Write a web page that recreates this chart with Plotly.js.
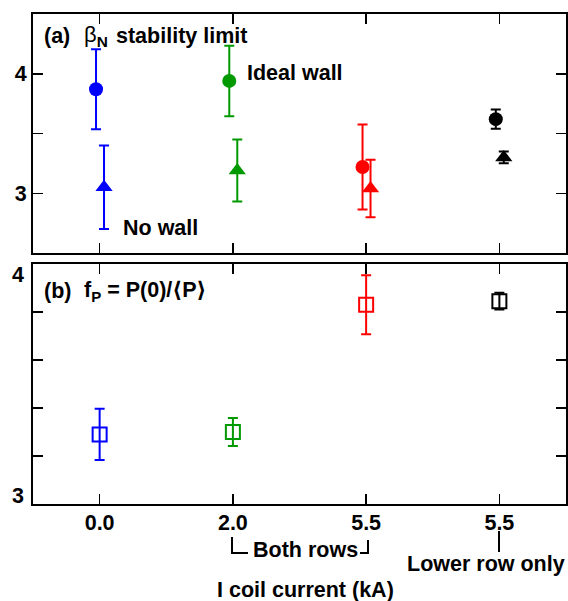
<!DOCTYPE html>
<html>
<head>
<meta charset="utf-8">
<script src="https://cdn.plot.ly/plotly-3.0.1.min.js"></script>
<style>
  html, body { margin: 0; padding: 0; background: #fff; }
  #chart { width: 568px; height: 601px; }
</style>
</head>
<body>
<div id="chart"></div>
<script>
// Coil-current cases along the x axis
const caseIndex = [0, 1, 2, 3];
const caseTickText = ['0.0', '2.0', '5.5', '5.5'];
const caseColors = ['#0000ff', '#009a00', '#ff0000', '#000000'];

// (a) beta_N stability limit
const idealWallBeta = [3.87, 3.94, 3.22, 3.62];
const idealWallErr  = [0.335, 0.295, 0.355, 0.08];
const noWallBeta    = [3.05, 3.19, 3.04, 3.30];
const noWallErr     = [0.35, 0.26, 0.24, 0.05];

// (b) pressure peaking factor f_P = P(0)/<P>
const peakingFactor = [3.29, 3.30, 3.83, 3.845];
const peakingErr    = [0.107, 0.058, 0.123, 0.035];

// axis ticks
const topTickVals = [3, 3.5, 4];
const topTickText = ['3', '', '4'];
const botTickVals = [3, 3.2, 3.4, 3.6, 3.8, 4];
const botTickText = ['3', '', '', '', '', '4'];

const FONT = 'Liberation Sans, Arial, Helvetica, sans-serif';
const W = 568, H = 601;
const M = {l: 33, r: 2, t: 14, b: 97};
const plotW = W - M.l - M.r, plotH = H - M.t - M.b;
const px = x => (x - M.l) / plotW;          // pixel -> paper x
const py = y => (H - M.b - y) / plotH;       // pixel -> paper y

const traces = [];
caseIndex.forEach((xi, i) => {
  const c = caseColors[i];
  const eb = (arr) => ({type: 'data', array: [arr[i]], visible: true,
                        color: c, thickness: 2, width: 5});
  traces.push({
    x: [xi - 0.027], y: [idealWallBeta[i]], xaxis: 'x2', yaxis: 'y2',
    mode: 'markers', type: 'scatter', error_y: eb(idealWallErr),
    marker: {symbol: 'circle', size: 14, color: c}, showlegend: false
  });
  traces.push({
    x: [xi + 0.033], y: [noWallBeta[i]], xaxis: 'x2', yaxis: 'y2',
    mode: 'markers', type: 'scatter', error_y: eb(noWallErr),
    marker: {symbol: 'triangle-up', size: 15, color: c}, showlegend: false
  });
  traces.push({
    x: [xi], y: [peakingFactor[i]], xaxis: 'x', yaxis: 'y',
    mode: 'markers', type: 'scatter', error_y: eb(peakingErr),
    marker: {symbol: 'square-open', size: 14, color: c, line: {width: 2, color: c}},
    showlegend: false
  });
});

const tickFont = {family: FONT, size: 21.5, color: '#000', weight: 'bold'};
const axisStyle = {
  showline: true, linecolor: '#000', linewidth: 2, mirror: 'ticks',
  ticks: 'inside', ticklen: 10, tickwidth: 1.5, tickcolor: '#000',
  showgrid: false, zeroline: false, tickfont: tickFont
};

const label = (text, x, y, extra) => Object.assign({
  text: text, xref: 'paper', yref: 'paper', x: px(x), y: py(y),
  xanchor: 'left', yanchor: 'middle', showarrow: false,
  font: {family: FONT, size: 21.5, color: '#000', weight: 'bold'}
}, extra || {});

// panel (b) end labels sit just inside the frame
const botEndLabels = [
  label(botTickText[botTickText.length - 1], 26, 275, {xanchor: 'right'}),
  label(botTickText[0], 26, 496, {xanchor: 'right'})
];

const angle = ch => `<span style="font-family:'DejaVu Sans'">${ch}</span>`;

const layout = {
  width: W, height: H, margin: M,
  paper_bgcolor: '#fff', plot_bgcolor: '#fff',
  font: {family: FONT, color: '#000'},
  xaxis: Object.assign({}, axisStyle, {
    domain: [0, 1], anchor: 'y', range: [-0.5, 3.5],
    tickvals: caseIndex, ticktext: caseTickText, ticklabelstandoff: -2
  }),
  xaxis2: Object.assign({}, axisStyle, {
    domain: [0, 1], anchor: 'y2', range: [-0.5, 3.5], matches: 'x',
    tickvals: caseIndex, showticklabels: false
  }),
  yaxis: Object.assign({}, axisStyle, {
    domain: [0, py(264)], anchor: 'x', range: [3, 4],
    tickvals: botTickVals, showticklabels: false
  }),
  yaxis2: Object.assign({}, axisStyle, {
    domain: [py(253), 1], anchor: 'x2', range: [2.5, 4.5],
    tickvals: topTickVals, ticktext: topTickText
  }),
  annotations: [
    label('(a)', 42, 36),
    label('β<sub><b>N</b></sub>', 82, 36, {font: {family: FONT, size: 22, color: '#000', weight: 'normal'}}),
    label('stability limit', 114, 36),
    label('Ideal wall', 245, 73),
    label('No wall', 121, 228),
    label('(b)', 42, 291),
    label('f<sub>P</sub> = P(0)/' + angle('⟨') + 'P' + angle('⟩'), 82, 291),
    label('Both rows', 305, 550, {xanchor: 'center'}),
    label('Lower row only', 486, 564, {xanchor: 'center'}),
    label('I coil current (kA)', 305, 590, {xanchor: 'center'})
  ].concat(botEndLabels),
  shapes: [
    {type: 'path', xref: 'paper', yref: 'paper',
     path: `M ${px(232)} ${py(537)} L ${px(232)} ${py(553)} L ${px(248)} ${py(553)}`,
     line: {color: '#000', width: 2}},
    {type: 'path', xref: 'paper', yref: 'paper',
     path: `M ${px(360)} ${py(553)} L ${px(368)} ${py(553)} L ${px(368)} ${py(540)}`,
     line: {color: '#000', width: 2}},
    {type: 'line', xref: 'paper', yref: 'paper',
     x0: px(499), x1: px(499), y0: py(531), y1: py(552),
     line: {color: '#000', width: 2}}
  ]
};

Plotly.newPlot('chart', traces, layout, {staticPlot: true, displayModeBar: false});
</script>
</body>
</html>
